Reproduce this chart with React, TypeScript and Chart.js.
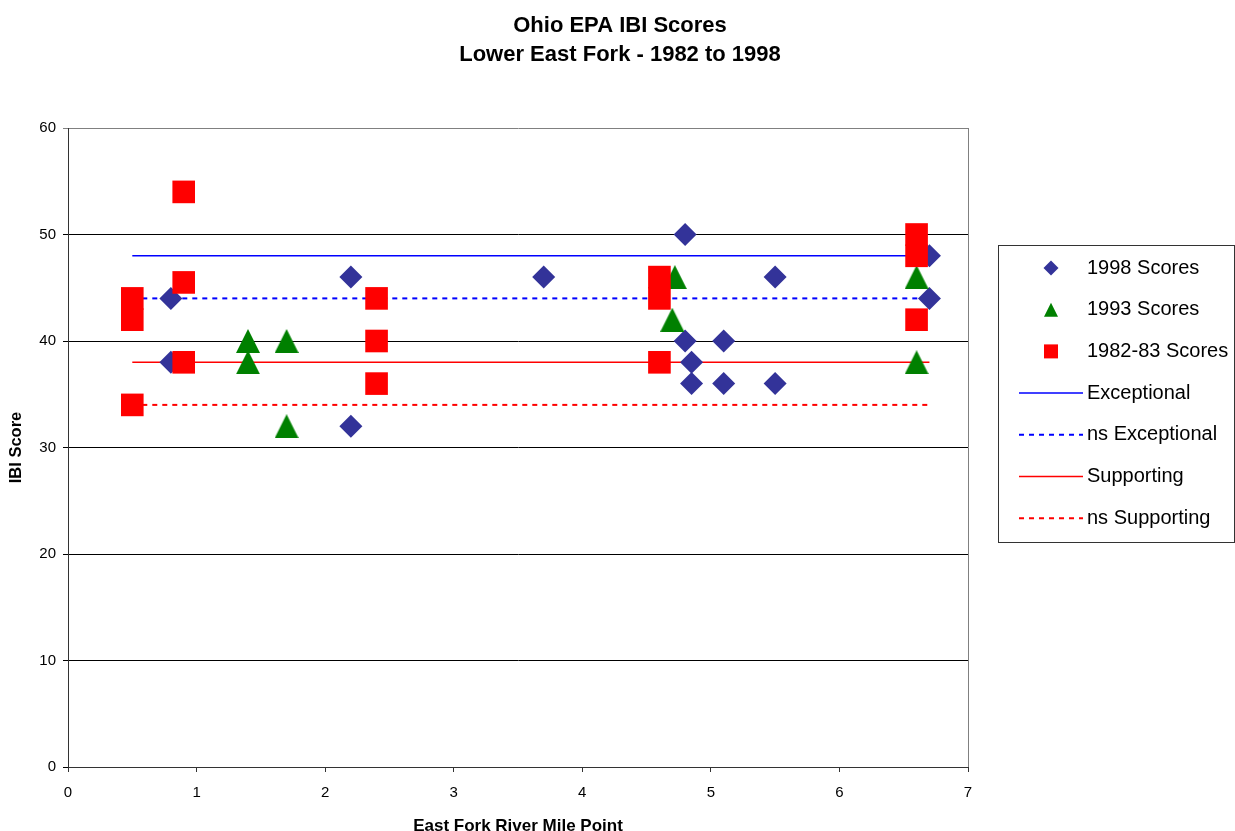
import React, { useEffect, useRef } from "react";
import { Chart, registerables } from "chart.js";

Chart.register(...registerables);

// IBI scores by river mile, one array per sampling period
const scores1998 = [
  { x: 0.8, y: 44 }, { x: 0.8, y: 38 },
  { x: 2.2, y: 46 }, { x: 2.2, y: 32 },
  { x: 3.7, y: 46 },
  { x: 4.8, y: 50 }, { x: 4.8, y: 40 },
  { x: 4.85, y: 38 }, { x: 4.85, y: 36 },
  { x: 5.1, y: 40 }, { x: 5.1, y: 36 },
  { x: 5.5, y: 46 }, { x: 5.5, y: 36 },
  { x: 6.7, y: 48 }, { x: 6.7, y: 44 },
];

const scores1993 = [
  { x: 1.4, y: 40 }, { x: 1.4, y: 38 },
  { x: 1.7, y: 40 }, { x: 1.7, y: 32 },
  { x: 4.72, y: 46 }, { x: 4.7, y: 42 },
  { x: 6.6, y: 46 }, { x: 6.6, y: 38 },
];

const scores1982 = [
  { x: 0.5, y: 44 }, { x: 0.5, y: 42 }, { x: 0.5, y: 34 },
  { x: 0.9, y: 54 }, { x: 0.9, y: 45.5 }, { x: 0.9, y: 38 },
  { x: 2.4, y: 44 }, { x: 2.4, y: 40 }, { x: 2.4, y: 36 },
  { x: 4.6, y: 46 }, { x: 4.6, y: 44 }, { x: 4.6, y: 38 },
  { x: 6.6, y: 50 }, { x: 6.6, y: 48 }, { x: 6.6, y: 42 },
];

// Criteria lines span the surveyed reach
const reachStart = 0.5;
const reachEnd = 6.7;
const exceptional = 48;
const nsExceptional = 44;
const supporting = 38;
const nsSupporting = 34;

const titleLines = ["Ohio EPA IBI Scores", "Lower East Fork - 1982 to 1998"];
const xTitle = "East Fork River Mile Point";
const yTitle = "IBI Score";

const FONT = "'Liberation Sans', Arial, Helvetica, sans-serif";

const DIAMOND = "#333399";
const GREEN = "#008000";
const RED = "#FF0000";
const BLUE = "#0000FF";

type LegendEntry = {
  label: string;
  kind: "diamond" | "triangle" | "square" | "line";
  color: string;
  dash?: number[];
};

const legendEntries: LegendEntry[] = [
  { label: "1998 Scores", kind: "diamond", color: DIAMOND },
  { label: "1993 Scores", kind: "triangle", color: GREEN },
  { label: "1982-83 Scores", kind: "square", color: RED },
  { label: "Exceptional", kind: "line", color: BLUE },
  { label: "ns Exceptional", kind: "line", color: BLUE, dash: [5, 5] },
  { label: "Supporting", kind: "line", color: RED },
  { label: "ns Supporting", kind: "line", color: RED, dash: [5, 5] },
];

function levelLine(y: number) {
  return [
    { x: reachStart, y },
    { x: reachEnd, y },
  ];
}

function makeTriangle(size: number, color: string) {
  const c = document.createElement("canvas");
  c.width = size;
  c.height = size;
  const g = c.getContext("2d")!;
  g.fillStyle = color;
  g.beginPath();
  g.moveTo(size / 2, 0);
  g.lineTo(size, size);
  g.lineTo(0, size);
  g.closePath();
  g.fill();
  return c;
}

// Page title centred on the whole figure, plus the right frame edge and the boxed legend
const frameAndLegend = {
  id: "frameAndLegend",
  afterDraw(chart: any) {
    const ctx = chart.ctx as CanvasRenderingContext2D;
    const { right, top, bottom } = chart.chartArea;
    ctx.save();

    ctx.fillStyle = "#000000";
    ctx.font = `bold 22px ${FONT}`;
    ctx.textAlign = "center";
    ctx.textBaseline = "middle";
    ctx.fillText(titleLines[0], 620, 25.5);
    ctx.fillText(titleLines[1], 620, 55);

    ctx.strokeStyle = "#808080";
    ctx.lineWidth = 1;
    ctx.beginPath();
    ctx.moveTo(Math.round(right) + 0.5, top);
    ctx.lineTo(Math.round(right) + 0.5, bottom);
    ctx.stroke();

    const bx = 998.5;
    const by = 245.5;
    const bw = 236;
    const bh = 297;
    ctx.fillStyle = "#ffffff";
    ctx.fillRect(bx, by, bw, bh);
    ctx.strokeStyle = "#333333";
    ctx.strokeRect(bx, by, bw, bh);

    const mx = 1051;
    const tx = 1087;
    const rowY0 = 268;
    const rowStep = 41.7;
    ctx.font = `20px ${FONT}`;
    ctx.textBaseline = "middle";
    ctx.textAlign = "left";
    legendEntries.forEach((e, i) => {
      const y = rowY0 + i * rowStep;
      ctx.save();
      ctx.fillStyle = e.color;
      ctx.strokeStyle = e.color;
      if (e.kind === "diamond") {
        const r = 7.5;
        ctx.beginPath();
        ctx.moveTo(mx, y - r);
        ctx.lineTo(mx + r, y);
        ctx.lineTo(mx, y + r);
        ctx.lineTo(mx - r, y);
        ctx.closePath();
        ctx.fill();
      } else if (e.kind === "triangle") {
        const s = 14;
        ctx.beginPath();
        ctx.moveTo(mx, y - s / 2);
        ctx.lineTo(mx + s / 2, y + s / 2);
        ctx.lineTo(mx - s / 2, y + s / 2);
        ctx.closePath();
        ctx.fill();
      } else if (e.kind === "square") {
        const s = 14;
        ctx.fillRect(mx - s / 2, y - s / 2, s, s);
      } else {
        ctx.lineWidth = e.dash ? 2 : 1.5;
        ctx.setLineDash(e.dash || []);
        ctx.beginPath();
        ctx.moveTo(1019, y);
        ctx.lineTo(1083, y);
        ctx.stroke();
      }
      ctx.restore();
      ctx.fillStyle = "#000000";
      ctx.fillText(e.label, tx, y);
    });
    ctx.restore();
  },
};

export default function App() {
  const canvasRef = useRef<HTMLCanvasElement | null>(null);

  useEffect(() => {
    const canvas = canvasRef.current;
    if (!canvas) return;
    const triangle = makeTriangle(24, GREEN);

    const chart = new Chart(canvas, {
      type: "scatter",
      data: {
        datasets: [
          {
            label: "1982-83 Scores",
            data: scores1982,
            pointStyle: "rect",
            pointRadius: 16,
            backgroundColor: RED,
            borderColor: RED,
            borderWidth: 0,
            order: 0,
          },
          {
            label: "1993 Scores",
            data: scores1993,
            pointStyle: triangle as any,
            pointRadius: 12,
            backgroundColor: GREEN,
            borderColor: GREEN,
            order: 1,
          },
          {
            label: "1998 Scores",
            data: scores1998,
            pointStyle: "rectRot",
            pointRadius: 11.5,
            backgroundColor: DIAMOND,
            borderColor: DIAMOND,
            borderWidth: 0,
            order: 2,
          },
          {
            label: "Exceptional",
            data: levelLine(exceptional),
            showLine: true,
            pointRadius: 0,
            borderColor: BLUE,
            borderWidth: 1.5,
            order: 3,
          },
          {
            label: "ns Exceptional",
            data: levelLine(nsExceptional),
            showLine: true,
            pointRadius: 0,
            borderColor: BLUE,
            borderWidth: 2,
            borderDash: [5, 5],
            order: 4,
          },
          {
            label: "Supporting",
            data: levelLine(supporting),
            showLine: true,
            pointRadius: 0,
            borderColor: RED,
            borderWidth: 1.5,
            order: 5,
          },
          {
            label: "ns Supporting",
            data: levelLine(nsSupporting),
            showLine: true,
            pointRadius: 0,
            borderColor: RED,
            borderWidth: 2,
            borderDash: [5, 5],
            order: 6,
          },
        ],
      },
      options: {
        responsive: false,
        animation: false,
        events: [],
        layout: {
          padding: { left: 0, right: 267, top: 128, bottom: 0 },
        },
        plugins: {
          legend: { display: false },
          tooltip: { enabled: false },
          title: { display: false },
        },
        scales: {
          x: {
            type: "linear",
            min: 0,
            max: 7,
            afterFit: (s: any) => {
              s.height = 64;
            },
            ticks: {
              stepSize: 1,
              color: "#000000",
              padding: 12,
              font: { family: FONT, size: 15 },
            },
            grid: {
              drawOnChartArea: false,
              drawTicks: true,
              tickLength: 5,
              color: "#333333",
            },
            border: { color: "#333333", width: 1 },
            title: {
              display: true,
              text: xTitle,
              color: "#000000",
              font: { family: FONT, size: 17, weight: "bold", lineHeight: 10 / 17 },
              padding: { top: 0, bottom: 0 },
            },
          },
          y: {
            type: "linear",
            min: 0,
            max: 60,
            afterFit: (s: any) => {
              s.width = 68;
            },
            ticks: {
              stepSize: 10,
              color: "#000000",
              padding: 7,
              font: { family: FONT, size: 15 },
            },
            grid: {
              drawTicks: true,
              tickLength: 5,
              color: (c: any) => (c.tick && c.tick.value === 60 ? "#808080" : "#000000"),
            },
            border: { color: "#333333", width: 1 },
            title: {
              display: true,
              text: yTitle,
              color: "#000000",
              font: { family: FONT, size: 16.5, weight: "bold", lineHeight: 1.2 },
              padding: { top: 7, bottom: 0 },
            },
          },
        },
      },
      plugins: [frameAndLegend],
    });

    return () => {
      chart.destroy();
    };
  }, []);

  return (
    <div style={{ position: "absolute", left: 0, top: 0, width: 1235, height: 831, background: "#ffffff" }}>
      <canvas ref={canvasRef} width={1235} height={831} />
    </div>
  );
}
